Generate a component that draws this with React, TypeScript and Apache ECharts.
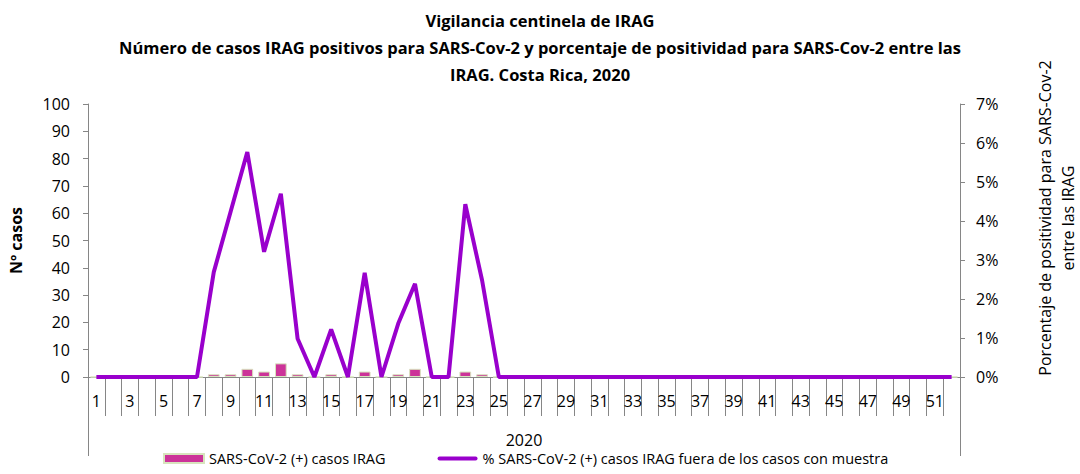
import React, { useEffect, useRef } from "react";
import * as echarts from "echarts";

const weeks: string[] = Array.from({ length: 52 }, (_, i) => String(i + 1));
const casosPositivos: number[] = [
  0, 0, 0, 0, 0, 0, 0, 1, 1, 3, 2, 5, 1, 0, 1, 0, 2, 0, 1, 3, 0, 0, 2, 1, 0, 0,
  0, 0, 0, 0, 0, 0, 0, 0, 0, 0, 0, 0, 0, 0, 0, 0, 0, 0, 0, 0, 0, 0, 0, 0, 0, 0,
];
const porcentajePositividad: number[] = [
  0, 0, 0, 0, 0, 0, 0, 0.0269, 0.0423, 0.0577, 0.0321, 0.047, 0.0098, 0, 0.0122,
  0, 0.0267, 0, 0.0137, 0.0239, 0, 0, 0.0443, 0.0248, 0, 0, 0, 0, 0, 0, 0, 0, 0,
  0, 0, 0, 0, 0, 0, 0, 0, 0, 0, 0, 0, 0, 0, 0, 0, 0, 0, 0,
];
const yearLabel: string[] = ["2020"];

const FONT = "'Open Sans', 'Noto Sans', sans-serif";
const AXIS = "#868686";

export default function App() {
  const ref = useRef<HTMLDivElement>(null);
  useEffect(() => {
    document.body.style.margin = "0";
    if (!ref.current) return;
    const chart = echarts.init(ref.current, undefined, { renderer: "svg" });
    chart.setOption({
      animation: false,
      textStyle: { fontFamily: FONT },
      title: {
        text: "Vigilancia centinela de IRAG\nNúmero de casos IRAG positivos para SARS-Cov-2 y porcentaje de positividad para SARS-Cov-2 entre las\nIRAG. Costa Rica, 2020",
        left: "center",
        top: 2,
        textStyle: {
          fontFamily: FONT,
          fontSize: 16.5,
          fontWeight: "bold",
          color: "#000",
          lineHeight: 27,
        },
      },
      legend: {
        bottom: 3,
        left: 158,
        itemGap: 52,
        itemWidth: 40,
        itemHeight: 9,
        textStyle: { fontFamily: FONT, fontSize: 14.5, color: "#000" },
        data: [
          { name: "SARS-CoV-2 (+) casos IRAG", icon: "rect" },
          {
            name: "% SARS-CoV-2 (+) casos IRAG fuera de los casos con muestra",
            icon: "path://M2,0 L38,0 A2,2 0 0 1 38,4 L2,4 A2,2 0 0 1 2,0 Z",
          },
        ],
      },
      grid: { left: 84, right: 120, top: 104, bottom: 97 },
      xAxis: [
        {
          type: "category",
          data: weeks,
          boundaryGap: true,
          axisLine: { show: true, lineStyle: { color: AXIS, width: 1 } },
          axisTick: { show: true, interval: 0, length: 39, lineStyle: { color: AXIS } },
          axisLabel: {
            interval: 1,
            fontFamily: FONT,
            fontSize: 16,
            color: "#000",
            margin: 16,
          },
        },
        {
          type: "category",
          data: yearLabel,
          position: "bottom",
          boundaryGap: true,
          axisLine: { show: false },
          axisTick: { show: true, interval: 0, length: 79, lineStyle: { color: AXIS } },
          axisLabel: {
            fontFamily: FONT,
            fontSize: 16,
            color: "#000",
            margin: 55,
          },
        },
      ],
      yAxis: [
        {
          type: "value",
          min: 0,
          max: 100,
          interval: 10,
          name: "Nº casos",
          nameLocation: "middle",
          nameGap: 64,
          nameTextStyle: {
            fontFamily: FONT,
            fontSize: 16,
            fontWeight: "bold",
            color: "#000",
          },
          axisLine: { show: true, lineStyle: { color: AXIS } },
          axisTick: { show: true, length: 5, lineStyle: { color: AXIS } },
          axisLabel: { fontFamily: FONT, fontSize: 16, color: "#000", margin: 18 },
          splitLine: { show: false },
        },
        {
          type: "value",
          min: 0,
          max: 0.07,
          interval: 0.01,
          position: "right",
          axisLine: { show: true, lineStyle: { color: AXIS } },
          axisTick: { show: true, length: 5, lineStyle: { color: AXIS } },
          axisLabel: {
            fontFamily: FONT,
            fontSize: 16,
            color: "#000",
            margin: 16,
            formatter: (v: number) => Math.round(v * 100) + "%",
          },
          splitLine: { show: false },
        },
      ],
      graphic: [
        {
          type: "text",
          x: 1056,
          y: 218,
          rotation: Math.PI / 2,
          style: {
            text: "Porcentaje de positividad para SARS-Cov-2\nentre las IRAG",
            fontFamily: FONT,
            fontSize: 16,
            lineHeight: 23,
            fill: "#000",
            align: "center",
            verticalAlign: "middle",
          },
        },
      ],
      series: [
        {
          name: "SARS-CoV-2 (+) casos IRAG",
          type: "bar",
          xAxisIndex: 0,
          yAxisIndex: 0,
          data: casosPositivos,
          barWidth: "70%",
          itemStyle: { color: "#CC3399", borderColor: "#D7E4BD", borderWidth: 1 },
        },
        {
          name: "% SARS-CoV-2 (+) casos IRAG fuera de los casos con muestra",
          type: "line",
          xAxisIndex: 0,
          yAxisIndex: 1,
          data: porcentajePositividad,
          symbol: "none",
          lineStyle: { color: "#9900CC", width: 4 },
          itemStyle: { color: "#9900CC" },
        },
      ],
    });
    return () => chart.dispose();
  }, []);
  return <div ref={ref} style={{ width: 1080, height: 474 }} />;
}
